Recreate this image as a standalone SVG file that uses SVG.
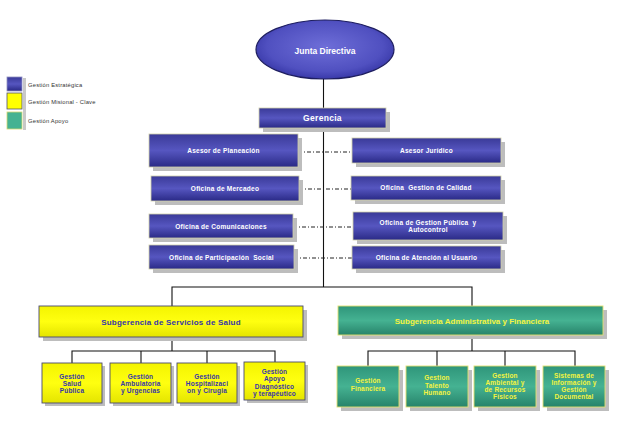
<svg xmlns="http://www.w3.org/2000/svg" width="619" height="425" viewBox="0 0 619 425">
<defs>
<linearGradient id="gBlue" x1="0" y1="0" x2="0" y2="1">
<stop offset="0" stop-color="#3a3a98"/><stop offset="0.5" stop-color="#5656c0"/><stop offset="1" stop-color="#2a2a86"/>
</linearGradient>
<linearGradient id="gYel" x1="0" y1="0" x2="0" y2="1">
<stop offset="0" stop-color="#f4f400"/><stop offset="0.5" stop-color="#ffff10"/><stop offset="1" stop-color="#e4e400"/>
</linearGradient>
<linearGradient id="gGrn" x1="0" y1="0" x2="0" y2="1">
<stop offset="0" stop-color="#2f957a"/><stop offset="0.5" stop-color="#45b292"/><stop offset="1" stop-color="#27836a"/>
</linearGradient>
<radialGradient id="gEll" cx="0.5" cy="0.45" r="0.6">
<stop offset="0" stop-color="#6e6ed8"/><stop offset="0.7" stop-color="#5050c0"/><stop offset="1" stop-color="#3030a0"/>
</radialGradient>
<style>
.sh{fill:#bdbdbd}
.b{fill:url(#gBlue);stroke:#cfcfa8;stroke-width:0.8}
.y{fill:url(#gYel);stroke:#4a4a70;stroke-width:0.9}
.g{fill:url(#gGrn);stroke:#e2e070;stroke-width:0.9}
.t{font-family:"Liberation Sans",Arial,sans-serif;font-weight:bold;text-anchor:middle;white-space:pre}
.tw{fill:#ffffff;font-size:6.5px;letter-spacing:0.25px}
.ty{fill:#3636a8;font-size:6.5px;letter-spacing:0.2px}
.tg{fill:#f4f440;font-size:6.5px;letter-spacing:0.2px}
.leg{font-family:"Liberation Sans",Arial,sans-serif;font-size:5.8px;fill:#333;letter-spacing:0.2px}
.ln{stroke:#111;stroke-width:1.1;fill:none}
.dd{stroke:#222;stroke-width:1;stroke-dasharray:4 2 1 2;fill:none}
</style>
</defs>

<g id="legend">
<rect x="23" y="78" width="3" height="52" fill="#c8c8c8"/>
<rect x="7" y="77" width="15" height="14" fill="url(#gBlue)" stroke="#9090c0" stroke-width="0.8"/>
<rect x="7" y="93" width="15" height="16" fill="#ffff00" stroke="#505070" stroke-width="0.8"/>
<rect x="7" y="112" width="15" height="17" fill="#45b292" stroke="#d8d870" stroke-width="0.8"/>
<text class="leg" x="28" y="86.5">Gestión Estratégica</text>
<text class="leg" x="28" y="103.5">Gestión Misional - Clave</text>
<text class="leg" x="28" y="122.5">Gestión Apoyo</text>
</g>

<g id="connectors">
<line class="ln" x1="323.5" y1="79" x2="323.5" y2="108"/>
<line class="ln" x1="323.5" y1="128" x2="323.5" y2="287"/>
<line class="dd" x1="298" y1="152" x2="352" y2="152"/>
<line class="dd" x1="299" y1="189" x2="351" y2="189"/>
<line class="dd" x1="293" y1="227" x2="353" y2="227"/>
<line class="dd" x1="294" y1="258" x2="352" y2="258"/>
<polyline class="ln" points="172,306 172,287 472,287 472,306"/>
<line class="ln" x1="172" y1="337" x2="172" y2="351"/>
<polyline class="ln" points="72,363 72,351 275,351 275,363"/>
<line class="ln" x1="141" y1="351" x2="141" y2="363"/>
<line class="ln" x1="207" y1="351" x2="207" y2="363"/>
<line class="ln" x1="472" y1="335" x2="472" y2="351"/>
<polyline class="ln" points="368,366 368,351 575,351 575,366"/>
<line class="ln" x1="437" y1="351" x2="437" y2="366"/>
<line class="ln" x1="505" y1="351" x2="505" y2="366"/>
</g>

<g id="junta">
<ellipse cx="325" cy="49.5" rx="69" ry="29.5" fill="url(#gEll)" stroke="#1e1e60" stroke-width="1.2"/>
<text class="t" x="325" y="54" font-size="8.5" fill="#ffffff">Junta Directiva</text>
</g>

<g id="gerencia">
<rect class="sh" x="263" y="112" width="127" height="20"/>
<rect class="b" x="259" y="108" width="127" height="20"/>
<text class="t" x="322.5" y="121" font-size="8.5" fill="#ffffff" letter-spacing="0.3">Gerencia</text>
</g>

<g id="planeacion">
<rect class="sh" x="153" y="138" width="149" height="33"/>
<rect class="b" x="149" y="134" width="149" height="33"/>
<text class="t tw" x="223.5" y="153">Asesor de Planeación</text>
</g>
<g id="juridico">
<rect class="sh" x="356" y="142" width="149" height="25"/>
<rect class="b" x="352" y="138" width="149" height="25"/>
<text class="t tw" x="426.5" y="152.5">Asesor Jurídico</text>
</g>
<g id="mercadeo">
<rect class="sh" x="155" y="180" width="148" height="25"/>
<rect class="b" x="151" y="176" width="148" height="25"/>
<text class="t tw" x="225" y="190.5">Oficina de Mercadeo</text>
</g>
<g id="calidad">
<rect class="sh" x="355" y="180" width="150" height="24"/>
<rect class="b" x="351" y="176" width="150" height="24"/>
<text class="t tw" x="426" y="190">Oficina  Gestion de Calidad</text>
</g>
<g id="comunicaciones">
<rect class="sh" x="153" y="218" width="144" height="24"/>
<rect class="b" x="149" y="214" width="144" height="24"/>
<text class="t tw" x="221" y="228.5">Oficina de Comunicaciones</text>
</g>
<g id="gestionpublica">
<rect class="sh" x="357" y="216" width="150" height="28"/>
<rect class="b" x="353" y="212" width="150" height="28"/>
<text class="t tw" x="428" y="225">Oficina de Gestion Pública  y</text>
<text class="t tw" x="428" y="232">Autocontrol</text>
</g>
<g id="participacion">
<rect class="sh" x="153" y="249" width="145" height="24"/>
<rect class="b" x="149" y="245" width="145" height="24"/>
<text class="t tw" x="221.5" y="259.5">Oficina de Participación  Social</text>
</g>
<g id="atencion">
<rect class="sh" x="356" y="250" width="149" height="23"/>
<rect class="b" x="352" y="246" width="149" height="23"/>
<text class="t tw" x="426.5" y="260">Oficina de Atención al Usuario</text>
</g>

<g id="subsalud">
<rect class="sh" x="43" y="310" width="264" height="31"/>
<rect class="y" x="39" y="306" width="264" height="31"/>
<text class="t" x="171" y="324.5" font-size="8" fill="#3636a8" letter-spacing="0.2">Subgerencia de Servicios de Salud</text>
</g>
<g id="subadmin">
<rect class="sh" x="342" y="310" width="265" height="29"/>
<rect class="g" x="338" y="306" width="265" height="29"/>
<text class="t" x="472" y="323.5" font-size="8" fill="#f4f440">Subgerencia Administrativa y Financiera</text>
</g>

<g id="saludpublica">
<rect class="sh" x="45" y="366" width="60" height="40"/>
<rect class="y" x="42" y="363" width="60" height="40"/>
<text class="t ty" x="72" y="379">Gestión</text>
<text class="t ty" x="72" y="386">Salud</text>
<text class="t ty" x="72" y="393">Pública</text>
</g>
<g id="ambulatoria">
<rect class="sh" x="113" y="366" width="61" height="40"/>
<rect class="y" x="110" y="363" width="61" height="40"/>
<text class="t ty" x="140.5" y="379">Gestión</text>
<text class="t ty" x="140.5" y="386">Ambulatoria</text>
<text class="t ty" x="140.5" y="393">y Urgencias</text>
</g>
<g id="hospitalizacion">
<rect class="sh" x="180" y="366" width="60" height="40"/>
<rect class="y" x="177" y="363" width="60" height="40"/>
<text class="t ty" x="207" y="379">Gestión</text>
<text class="t ty" x="207" y="386">Hospitalizaci</text>
<text class="t ty" x="207" y="393">on y Cirugia</text>
</g>
<g id="apoyo">
<rect class="sh" x="247" y="365" width="61" height="38"/>
<rect class="y" x="244" y="362" width="61" height="38"/>
<text class="t ty" x="274.5" y="374">Gestión</text>
<text class="t ty" x="274.5" y="381">Apoyo</text>
<text class="t ty" x="274.5" y="389">Diagnóstico</text>
<text class="t ty" x="274.5" y="396">y terapéutico</text>
</g>

<g id="financiera">
<rect class="sh" x="341" y="370" width="62" height="41"/>
<rect class="g" x="337" y="366" width="62" height="41"/>
<text class="t tg" x="368" y="383">Gestión</text>
<text class="t tg" x="368" y="390.5">Financiera</text>
</g>
<g id="talento">
<rect class="sh" x="410" y="370" width="62" height="41"/>
<rect class="g" x="406" y="366" width="62" height="41"/>
<text class="t tg" x="437" y="380">Gestion</text>
<text class="t tg" x="437" y="387.5">Talento</text>
<text class="t tg" x="437" y="395">Humano</text>
</g>
<g id="ambiental">
<rect class="sh" x="478" y="370" width="62" height="41"/>
<rect class="g" x="474" y="366" width="62" height="41"/>
<text class="t tg" x="505" y="378">Gestion</text>
<text class="t tg" x="505" y="384.5">Ambiental y</text>
<text class="t tg" x="505" y="392">de Recursos</text>
<text class="t tg" x="505" y="399">Físicos</text>
</g>
<g id="sistemas">
<rect class="sh" x="547" y="370" width="62" height="41"/>
<rect class="g" x="543" y="366" width="62" height="41"/>
<text class="t tg" x="574" y="378">Sistemas de</text>
<text class="t tg" x="574" y="384.5">Información y</text>
<text class="t tg" x="574" y="392">Gestión</text>
<text class="t tg" x="574" y="399">Documental</text>
</g>
</svg>
